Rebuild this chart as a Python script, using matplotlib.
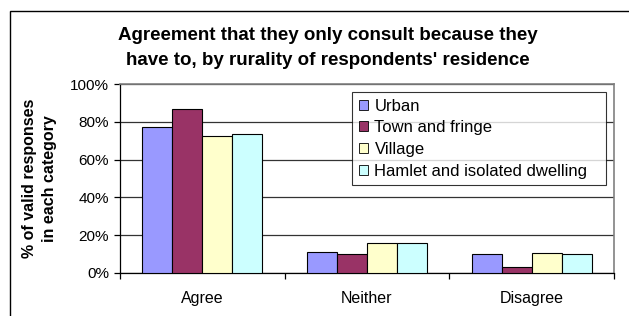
import numpy as np
import matplotlib.pyplot as plt
from matplotlib.patches import Rectangle
from matplotlib.ticker import PercentFormatter

# Chart data
categories = ['Agree', 'Neither', 'Disagree']
series_names = ['Urban', 'Town and fringe', 'Village', 'Hamlet and isolated dwelling']
urban = [77.4, 11.3, 10.0]
town_fringe = [86.9, 10.0, 3.0]
village = [72.5, 16.0, 10.7]
hamlet = [73.4, 16.0, 10.0]
series_values = [urban, town_fringe, village, hamlet]
colors = ['#9999FF', '#993366', '#FFFFCC', '#CCFFFF']

plt.rcParams['font.family'] = ['Liberation Sans', 'DejaVu Sans']

fig = plt.figure(figsize=(6.29, 3.16), dpi=100)
ax = fig.add_axes([120 / 629, 1 - 273 / 316, (614 - 120) / 629, (273 - 84) / 316])

# Outer chart border (only top and left visible in the picture)
fig.patches.append(Rectangle((10 / 629, -0.5), 2.0, 1.5 - 11 / 316,
                             transform=fig.transFigure, fill=False,
                             edgecolor='black', linewidth=1.0))

x = np.arange(len(categories))
bar_w = 1 / 5.5
for i, (name, vals) in enumerate(zip(series_names, series_values)):
    offs = (i - 1.5) * bar_w
    ax.bar(x + offs, vals, width=bar_w, color=colors[i], edgecolor='black',
           linewidth=0.8, label=name, zorder=3)

ax.set_xlim(-0.5, 2.5)
ax.set_ylim(0, 100)
ax.set_yticks([0, 20, 40, 60, 80, 100])
ax.yaxis.set_major_formatter(PercentFormatter(decimals=0))
ax.grid(axis='y', color='#333333', linewidth=0.9, zorder=0)

# category labels between boundary ticks, Excel style
ax.set_xticks([-0.5, 0.5, 1.5, 2.5])
ax.set_xticklabels([])
ax.set_xticks(x, minor=True)
ax.set_xticklabels(categories, minor=True, fontsize=11.5)
ax.tick_params(axis='x', which='minor', length=0, pad=13)
ax.tick_params(axis='x', which='major', direction='out', length=4, width=0.9)
ax.tick_params(axis='y', direction='out', length=4, width=0.9, labelsize=11, pad=4)

for side in ['top', 'right']:
    ax.spines[side].set_color('#808080')
    ax.spines[side].set_linewidth(1.2)
ax.spines['left'].set_linewidth(0.9)
ax.spines['bottom'].set_linewidth(0.9)

ax.set_ylabel('% of valid responses\nin each category', fontsize=11.5,
              fontweight='bold', labelpad=9, linespacing=1.45)

fig.text(328 / 629, 1 - 48 / 316,
         "Agreement that they only consult because they\nhave to, by rurality of respondents' residence",
         ha='center', va='center', fontsize=13.5, fontweight='bold', linespacing=1.55)

x0 = (352 - 120) / 494
y1 = 1 - (92 - 84) / 189
leg = ax.legend(loc='upper left', bbox_to_anchor=(x0, y1 - 0.5, (606 - 352) / 494, 0.5),
                mode='expand', fontsize=12, frameon=True, fancybox=False,
                handlelength=0.55, handleheight=0.55, handletextpad=0.4,
                labelspacing=0.4, borderpad=0.4, borderaxespad=0)
leg.get_frame().set_edgecolor('black')
leg.get_frame().set_linewidth(0.8)
for h in leg.legend_handles:
    h.set_edgecolor('black')
    h.set_linewidth(0.6)

fig.savefig('out.png', dpi=100)
